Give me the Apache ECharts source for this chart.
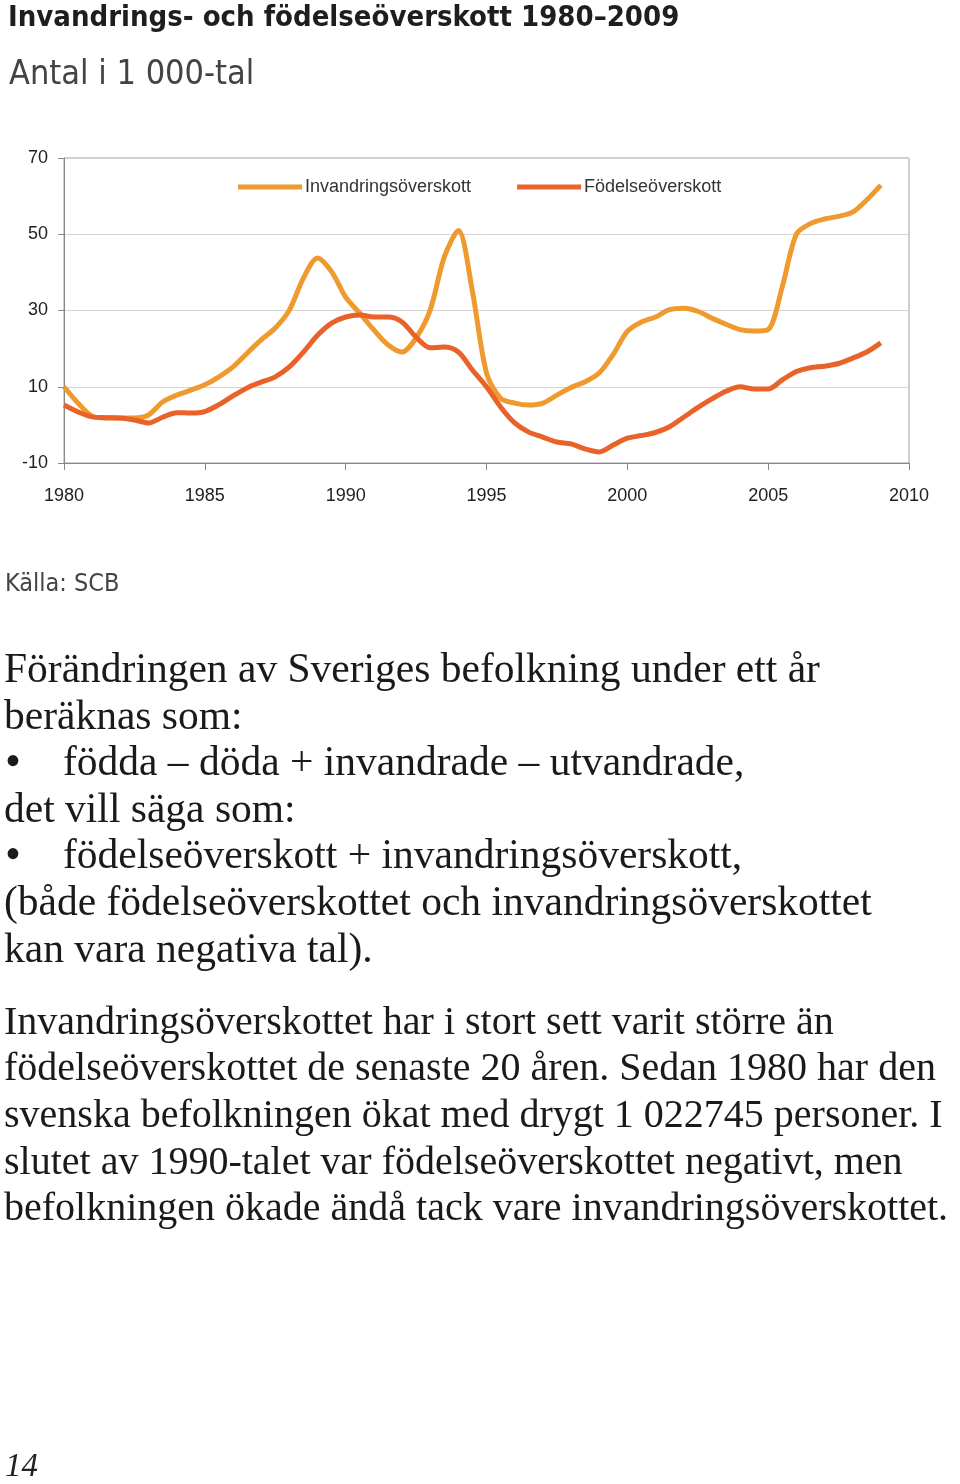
<!DOCTYPE html>
<html>
<head>
<meta charset="utf-8">
<script src="https://cdn.jsdelivr.net/npm/echarts@6/dist/echarts.min.js"></script>
<style>
  html, body { margin: 0; padding: 0; background: #fff; }
  #main { width: 960px; height: 1484px; }
</style>
</head>
<body>
<div id="main"></div>
<script>
// data, half-year steps
var years = [1980, 1980.5, 1981, 1981.5, 1982, 1982.5, 1983, 1983.5, 1984, 1984.5,
  1985, 1985.5, 1986, 1986.5, 1987, 1987.5, 1988, 1988.5, 1989, 1989.5,
  1990, 1990.5, 1991, 1991.5, 1992, 1992.5, 1993, 1993.5, 1994, 1994.5,
  1995, 1995.5, 1996, 1996.5, 1997, 1997.5, 1998, 1998.5, 1999, 1999.5,
  2000, 2000.5, 2001, 2001.5, 2002, 2002.5, 2003, 2003.5, 2004, 2004.5,
  2005, 2005.5, 2006, 2006.5, 2007, 2007.5, 2008, 2008.5, 2009];

var invandring = [10, 5.7, 2.3, 1.8, 1.8, 1.8, 2.6, 6.0, 7.8, 9.1,
  10.5, 12.6, 15.2, 18.8, 22.3, 25.4, 30.1, 38.5, 43.8, 40.2,
  33.5, 29.3, 24.9, 21.0, 19.1, 22.8, 30.1, 44.0, 51.0, 35.0,
  13.6, 7.0, 5.7, 5.2, 5.7, 7.8, 9.8, 11.3, 13.6, 18.5,
  24.5, 27.0, 28.3, 30.2, 30.6, 29.8, 28.0, 26.4, 25.0, 24.6,
  25.0, 36.2, 50.0, 52.8, 54.0, 54.7, 55.8, 59.0, 62.9];

var fodelse = [5.2, 3.4, 2.1, 1.9, 1.8, 1.3, 0.5, 2.0, 3.2, 3.1,
  3.5, 5.3, 7.6, 9.7, 11.2, 12.6, 15.2, 19.1, 23.5, 26.7,
  28.3, 28.8, 28.3, 28.3, 27.0, 23.0, 20.2, 20.4, 19.1, 14.4,
  10.0, 4.7, 0.5, -1.9, -3.2, -4.5, -5.0, -6.3, -7.1, -5.3,
  -3.5, -2.8, -2.0, -0.5, 2.0, 4.5, 6.8, 8.8, 10.0, 9.4,
  9.4, 11.8, 14.0, 15.0, 15.4, 16.1, 17.5, 19.1, 21.5];

var seriesNames = ['Invandringsöverskott', 'Födelseöverskott'];

var bodyLines = [
  'Förändringen av Sveriges befolkning under ett år',
  'beräknas som:',
  '•födda – döda + invandrade – utvandrade,',
  'det vill säga som:',
  '•födelseöverskott + invandringsöverskott,',
  '(både födelseöverskottet och invandringsöverskottet',
  'kan vara negativa tal).'
];
var bodyLines2 = [
  'Invandringsöverskottet har i stort sett varit större än',
  'födelseöverskottet de senaste 20 åren. Sedan 1980 har den',
  'svenska befolkningen ökat med drygt 1 022745 personer. I',
  'slutet av 1990-talet var födelseöverskottet negativt, men',
  'befolkningen ökade ändå tack vare invandringsöverskottet.'
];

function pairs(xs, ys) {
  return xs.map(function (x, i) { return [x, ys[i]]; });
}

var graphics = [];

function addLines(lines, y0, step, size) {
  var font = size + 'px "Liberation Serif", "DejaVu Serif", serif';
  lines.forEach(function (line, i) {
    var y = y0 + i * step;
    if (line.charAt(0) === '•') {
      graphics.push({ type: 'text', x: 5, y: y, style: { text: '•', font: (size + 4) + 'px "Liberation Serif", serif', fill: '#1a1a1a', verticalAlign: 'middle' } });
      graphics.push({ type: 'text', x: 63, y: y, style: { text: line.slice(1), font: font, fill: '#1a1a1a', verticalAlign: 'middle' } });
    } else {
      graphics.push({ type: 'text', x: 4, y: y, style: { text: line, font: font, fill: '#1a1a1a', verticalAlign: 'middle' } });
    }
  });
}
addLines(bodyLines, 671, 46.6, 41.5);
addLines(bodyLines2, 1023, 46.7, 40);

graphics.push({ type: 'text', x: 5, y: 584, style: { text: 'Källa: SCB', font: '25px "Liberation Sans Narrow", "DejaVu Sans Condensed", sans-serif', fill: '#444', verticalAlign: 'middle' } });
graphics.push({ type: 'text', x: 5, y: 1467, style: { text: '14', font: 'italic 33px "Liberation Serif", serif', fill: '#222', verticalAlign: 'middle' } });

var myChart = echarts.init(document.getElementById('main'));
var option = {
  backgroundColor: '#fff',
  animation: false,
  title: [
    {
      text: 'Invandrings- och födelseöverskott 1980–2009',
      left: 3, top: -1,
      textStyle: { fontFamily: '"Liberation Sans Narrow", "DejaVu Sans Condensed", sans-serif', fontWeight: 'bold', fontSize: 29, color: '#1e1e1e' }
    },
    {
      text: 'Antal i 1 000-tal',
      left: 4, top: 53,
      textStyle: { fontFamily: '"Liberation Sans Narrow", "DejaVu Sans Condensed", sans-serif', fontWeight: 'normal', fontSize: 34, color: '#444' }
    }
  ],
  legend: {
    data: seriesNames,
    left: 238, top: 178,
    padding: 0,
    icon: 'rect',
    itemWidth: 64, itemHeight: 5,
    itemGap: 46,
    textStyle: { fontSize: 18, color: '#333', fontFamily: '"Liberation Sans", Arial, sans-serif', padding: [0, 0, 0, -2] }
  },
  grid: {
    show: true,
    left: 64, right: 51, top: 158, bottom: 1021,
    borderColor: '#a0a0a0', borderWidth: 1
  },
  xAxis: {
    type: 'value',
    min: 1980, max: 2010, interval: 5,
    axisLine: { onZero: false, lineStyle: { color: '#888', width: 1 } },
    axisTick: { show: true, length: 7, lineStyle: { color: '#888' } },
    axisLabel: {
      margin: 24, fontSize: 18, color: '#222',
      fontFamily: '"Liberation Sans Narrow", "Liberation Sans", sans-serif',
      formatter: function (v) { return String(v); }
    },
    splitLine: { show: false }
  },
  yAxis: {
    type: 'value',
    min: -10, max: 70, interval: 20,
    axisLine: { show: true, lineStyle: { color: '#888', width: 1 } },
    axisTick: { show: true, length: 6, lineStyle: { color: '#888' } },
    axisLabel: { margin: 16, fontSize: 18, color: '#222', fontFamily: '"Liberation Sans", Arial, sans-serif' },
    splitLine: { show: true, lineStyle: { color: '#d4d4d4', width: 1 } }
  },
  series: [
    {
      name: seriesNames[0],
      type: 'line',
      data: pairs(years, invandring),
      smooth: 0.3,
      showSymbol: false,
      color: '#EE9A2E',
      lineStyle: { width: 5, color: '#EE9A2E' }
    },
    {
      name: seriesNames[1],
      type: 'line',
      data: pairs(years, fodelse),
      smooth: 0.3,
      showSymbol: false,
      color: '#E8622A',
      lineStyle: { width: 5, color: '#E8622A' }
    }
  ],
  graphic: graphics
};
myChart.setOption(option);
</script>
</body>
</html>
